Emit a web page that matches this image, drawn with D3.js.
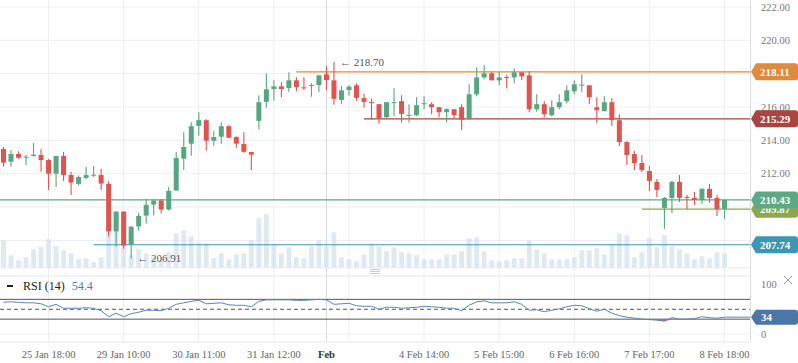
<!DOCTYPE html>
<html>
<head>
<meta charset="utf-8">
<script src="https://cdn.jsdelivr.net/npm/d3@7"></script>
<style>
  body { margin: 0; background: #fff; }
  svg { display: block; font-family: 'Liberation Serif', 'Times New Roman', serif; }
</style>
</head>
<body>
<svg id="chart" width="798" height="363"></svg>
<script>
// trading sessions, hourly bars 10:00 - 18:00
const days = ['25 Jan', '28 Jan', '29 Jan', '30 Jan', '31 Jan', '1 Feb', '4 Feb', '5 Feb', '6 Feb', '7 Feb', '8 Feb']
const hours = [10, 11, 12, 13, 14, 15, 16, 17, 18]
const firstHour = 12

const open = [213.48, 212.72, 213.18, 212.96, 213.06, 213.12, 212.82, 212.00, 213.06, 211.92,
  211.39, 211.75, 211.88, 211.92, 211.39, 208.54, 209.73, 207.74, 208.84, 209.49,
  210.15, 210.39, 209.85, 210.99, 212.90, 213.80, 214.87, 215.21, 213.98, 214.22,
  214.85, 214.20, 213.78, 213.30, 215.17, 216.31, 217.08, 217.24, 217.14, 217.60,
  217.18, 217.26, 217.32, 217.96, 217.60, 216.43, 217.02, 217.30, 216.53, 216.29,
  216.17, 215.39, 216.23, 216.35, 215.53, 215.51, 216.17, 216.17, 215.99, 215.69,
  215.87, 215.99, 215.33, 216.76, 217.78, 218.02, 217.60, 217.80, 217.78, 218.08,
  217.90, 215.87, 216.17, 215.51, 215.99, 216.35, 216.94, 217.34, 217.30, 215.99,
  215.75, 216.29, 215.21, 213.90, 213.18, 212.64, 212.16, 211.51, 209.95, 210.55,
  211.51, 210.61, 210.55, 210.43, 211.09, 210.55, 209.89]
const high = [213.60, 213.42, 213.34, 213.12, 213.84, 213.48, 212.88, 213.06, 213.30, 212.10,
  211.90, 212.40, 212.46, 212.28, 211.57, 209.73, 209.73, 208.88, 209.65, 210.49,
  210.49, 210.49, 211.21, 213.30, 214.49, 215.09, 215.69, 215.27, 214.55, 215.09,
  214.91, 214.25, 214.49, 213.30, 216.71, 218.02, 217.60, 217.48, 218.08, 217.78,
  217.78, 217.42, 217.94, 218.44, 218.70, 217.26, 217.30, 217.42, 216.80, 216.51,
  216.17, 216.29, 217.12, 216.71, 216.17, 216.59, 216.65, 216.29, 215.99, 215.93,
  215.87, 216.17, 217.36, 218.38, 218.50, 218.12, 218.12, 217.90, 218.32, 218.08,
  218.14, 216.76, 216.35, 216.41, 216.76, 217.30, 217.60, 217.96, 217.30, 216.59,
  216.65, 216.53, 215.57, 213.96, 213.36, 213.12, 212.46, 211.69, 210.61, 211.57,
  211.92, 210.73, 210.91, 211.15, 211.39, 210.73, 210.43]
const low = [212.42, 212.42, 212.90, 212.52, 213.04, 212.12, 211.03, 211.21, 211.57, 210.73,
  211.29, 211.69, 211.80, 211.03, 208.24, 207.64, 207.50, 206.91, 208.58, 209.02,
  209.49, 209.61, 209.79, 210.99, 212.22, 213.08, 214.27, 213.38, 213.68, 213.80,
  214.16, 213.56, 213.26, 212.22, 214.67, 215.95, 216.37, 216.59, 216.90, 216.96,
  217.02, 216.61, 216.90, 217.02, 216.13, 216.19, 216.67, 216.37, 215.95, 215.25,
  214.99, 215.35, 215.45, 215.05, 215.05, 215.45, 215.87, 215.57, 215.39, 215.09,
  215.33, 214.61, 215.21, 216.65, 217.66, 217.60, 217.30, 217.12, 217.42, 217.60,
  215.69, 215.71, 215.39, 215.45, 215.87, 216.23, 216.76, 216.90, 216.17, 215.03,
  215.75, 214.85, 213.66, 212.52, 212.22, 212.10, 210.97, 210.61, 208.70, 209.65,
  210.31, 209.89, 210.13, 210.19, 210.25, 209.47, 209.29]
const close = [212.66, 213.18, 212.96, 213.02, 213.14, 212.82, 212.00, 213.06, 211.92, 211.47,
  211.80, 211.92, 211.94, 211.41, 208.54, 209.73, 207.70, 208.82, 209.47, 210.13,
  210.39, 209.85, 210.97, 212.94, 213.60, 214.85, 215.21, 213.98, 214.20, 214.85,
  214.16, 213.80, 213.32, 213.14, 216.29, 217.06, 217.24, 217.08, 217.60, 217.20,
  217.12, 217.32, 217.90, 217.62, 216.49, 217.00, 217.22, 216.55, 216.31, 216.23,
  215.33, 216.29, 216.29, 215.59, 215.53, 216.11, 216.23, 215.99, 215.69, 215.87,
  215.51, 215.23, 216.76, 217.78, 218.02, 217.60, 217.78, 217.74, 218.08, 217.84,
  215.87, 216.17, 215.57, 215.99, 216.29, 217.00, 217.36, 217.34, 216.59, 215.81,
  216.29, 215.21, 213.90, 213.12, 212.64, 212.22, 211.57, 211.03, 210.55, 211.51,
  210.55, 210.55, 210.43, 211.09, 210.55, 209.89, 210.43]
const volume = [27, 12, 7, 10, 18, 20, 28, 21, 17, 14,
  8, 9, 5, 10, 42, 36, 31, 12, 18, 14,
  10, 8, 15, 34, 37, 31, 25, 24, 9, 14,
  8, 13, 14, 27, 49, 53, 23, 14, 20, 10,
  9, 21, 27, 21, 35, 10, 8, 6, 13, 24,
  21, 16, 20, 15, 14, 12, 8, 8, 8, 13,
  13, 16, 29, 30, 16, 7, 6, 7, 9, 9,
  27, 18, 14, 8, 8, 8, 10, 17, 17, 19,
  13, 23, 34, 32, 10, 15, 29, 20, 32, 21,
  18, 14, 8, 11, 9, 15, 14]
const rsi = [64, 65, 64, 63, 63, 61, 55, 60, 52, 52,
  52, 53, 52, 47, 35, 42, 35, 41, 44, 48,
  48, 47, 52, 60, 63, 66, 68, 61, 62, 63,
  59, 58, 58, 55, 66, 69, 69, 69, 69, 68,
  68, 69, 70, 69, 60, 61, 62, 57, 56, 56,
  50, 54, 54, 52, 53, 54, 56, 55, 54, 52,
  52, 47, 58, 65, 67, 63, 63, 63, 65, 60,
  48, 49, 45, 48, 51, 55, 58, 57, 51, 46,
  50, 42, 37, 34, 32, 30, 29, 28, 26, 33,
  30, 30, 31, 35, 33, 32, 34]
const rsiLegendValue = 54.4

const tickCats = ['25 Jan 18:00', '29 Jan 10:00', '30 Jan 11:00', '31 Jan 12:00', '1 Feb 13:00',
  '4 Feb 14:00', '5 Feb 15:00', '6 Feb 16:00', '7 Feb 17:00', '8 Feb 18:00']
const hiddenTicks = ['1 Feb 13:00']
const monthCat = '1 Feb 10:00'
const monthLabel = 'Feb'

// horizontal price lines: value and the bar they start from (null = whole width)
const levelValues = [207.74, 209.87, 210.43, 215.29, 218.11]
const levelFrom = ['28 Jan 15:00', '7 Feb 16:00', null, '1 Feb 15:00', '31 Jan 15:00']
const levelColors = ['#3b97b3', '#8da84c', '#5ca984', '#a84442', '#e08a3d']

const priceTicks = [208, 210, 212, 214, 216, 218, 220, 222]
const rsiLevels = [70, 50, 30]
const rsiTicks = [0, 100]

const categories = []
days.forEach((d, k) => hours.forEach(h => {
  if (k > 0 || h >= firstHour) categories.push(d + ' ' + h + ':00')
}))
const bars = categories.map((c, i) => ({ c, o: open[i], h: high[i], l: low[i], cl: close[i], v: volume[i], r: rsi[i] }))

const svg = d3.select('#chart')
const plotRight = 750
const green = '#58a67f', red = '#e0534f', grid = '#eceef1'
const tagH = 17

const x = d3.scalePoint().domain(categories).range([3.5, 724.5])
const y = d3.scaleLinear().domain([208, 222]).range([240.4, 7])
const vy = d3.scaleLinear().domain([0, 60]).range([267.3, 207.3])
const ry = d3.scaleLinear().domain([0, 100]).range([334, 284.5])

// grid
const gGrid = svg.append('g')
gGrid.selectAll('.hg').data(priceTicks).enter().append('line')
  .attr('x1', 0).attr('x2', plotRight).attr('y1', d => y(d)).attr('y2', d => y(d))
  .attr('stroke', grid)
gGrid.selectAll('.vg').data(tickCats).enter().append('line')
  .attr('x1', d => x(d)).attr('x2', d => x(d)).attr('y1', 0).attr('y2', 342)
  .attr('stroke', grid)
gGrid.append('line').attr('x1', x(monthCat)).attr('x2', x(monthCat)).attr('y1', 0).attr('y2', 342)
  .attr('stroke', '#d6d9dd')
gGrid.selectAll('.pb').data([267.8, 276, 342]).enter().append('line')
  .attr('x1', 0).attr('x2', plotRight).attr('y1', d => d).attr('y2', d => d)
  .attr('stroke', '#e4e7ea')
gGrid.append('line').attr('x1', 0).attr('x2', plotRight).attr('y1', ry(0)).attr('y2', ry(0)).attr('stroke', grid)
gGrid.append('line').attr('x1', plotRight + 0.5).attr('x2', plotRight + 0.5).attr('y1', 0).attr('y2', 342)
  .attr('stroke', '#dadde1')

// volume
svg.append('g').selectAll('rect').data(bars).enter().append('rect')
  .attr('x', d => x(d.c) - 2.4).attr('width', 4.8)
  .attr('y', d => vy(d.v)).attr('height', d => vy(0) - vy(d.v))
  .attr('fill', '#d3e2ef').attr('opacity', 0.75)

// price levels
const gLev = svg.append('g')
levelValues.forEach((v, k) => {
  gLev.append('line')
    .attr('x1', levelFrom[k] ? x(levelFrom[k]) : 0).attr('x2', plotRight)
    .attr('y1', y(v)).attr('y2', y(v))
    .attr('stroke', levelColors[k]).attr('stroke-width', 1.2)
})

// candles
const colorOf = d => d.cl > d.o ? green : d.cl < d.o ? red : '#8a8a8a'
const gC = svg.append('g')
gC.selectAll('.wick').data(bars).enter().append('line')
  .attr('x1', d => x(d.c)).attr('x2', d => x(d.c))
  .attr('y1', d => y(d.h)).attr('y2', d => y(d.l))
  .attr('stroke', colorOf).attr('stroke-width', 1.1)
gC.selectAll('.body').data(bars).enter().append('rect')
  .attr('x', d => x(d.c) - 2.5).attr('width', 5)
  .attr('y', d => y(Math.max(d.o, d.cl)))
  .attr('height', d => Math.max(1, Math.abs(y(d.o) - y(d.cl))))
  .attr('fill', colorOf)

// high / low markers
const hiIdx = d3.maxIndex(high), loIdx = d3.minIndex(low)
const notes = [[hiIdx, high[hiIdx]], [loIdx, low[loIdx]]]
notes.forEach(([i, v]) => {
  svg.append('text').attr('x', x(categories[i]) + 6).attr('y', y(v) + 3.5)
    .attr('font-size', 11).attr('fill', '#555')
    .text('\u2190 ' + v.toFixed(2))
})

// price axis labels (the ones fully under a level tag are covered, as in the source)
const covered = t => levelValues.some(v => Math.abs(y(t) - y(v)) < tagH / 2)
svg.append('g').selectAll('text').data(priceTicks.filter(t => !covered(t))).enter().append('text')
  .attr('x', 761).attr('y', d => y(d) + 3.5)
  .attr('font-size', 10.5).attr('fill', '#777')
  .text(d => d.toFixed(2))

// level tags
const tag = (cy, h) => `M751,${cy} L756,${cy - h / 2} H795 Q798,${cy - h / 2} 798,${cy - h / 2 + 3} V${cy + h / 2 - 3} Q798,${cy + h / 2} 795,${cy + h / 2} H756 Z`
levelValues.forEach((v, k) => {
  const cy = y(v)
  svg.append('path').attr('d', tag(cy, tagH)).attr('fill', levelColors[k])
  svg.append('text').attr('x', 760).attr('y', cy + 4).attr('font-size', 11)
    .attr('font-weight', 'bold').attr('fill', '#fff').text(v.toFixed(2))
})

// RSI panel
const gR = svg.append('g')
rsiLevels.forEach(v => {
  gR.append('line').attr('x1', 0).attr('x2', plotRight).attr('y1', ry(v)).attr('y2', ry(v))
    .attr('stroke', '#555').attr('stroke-dasharray', v === 50 ? '4,3' : null)
})
const rsiPts = bars.map(d => [x(d.c), d.r]).concat([[plotRight, rsi[rsi.length - 1]]])
gR.append('path').datum(rsiPts)
  .attr('d', d3.area().x(d => d[0]).y0(ry(30)).y1(d => ry(Math.min(d[1], 30))))
  .attr('fill', red).attr('opacity', 0.85)
gR.append('path').datum(rsiPts)
  .attr('d', d3.line().x(d => d[0]).y(d => ry(d[1])))
  .attr('fill', 'none').attr('stroke', '#5b85bd').attr('stroke-width', 1)

gR.selectAll('.rt').data(rsiTicks).enter().append('text')
  .attr('x', 761).attr('y', d => ry(d) + 3.5).attr('font-size', 10.5).attr('fill', '#777')
  .text(d => d)
gR.append('path').attr('d', tag(ry(rsi[rsi.length - 1]), 15)).attr('fill', '#4a76a8')
gR.append('text').attr('x', 761).attr('y', ry(rsi[rsi.length - 1]) + 4).attr('font-size', 11)
  .attr('font-weight', 'bold').attr('fill', '#fff').text(rsi[rsi.length - 1])

// legend
gR.append('rect').attr('x', 7).attr('y', 285).attr('width', 6).attr('height', 2).attr('fill', '#222')
const leg = gR.append('text').attr('x', 23).attr('y', 290).attr('font-size', 12)
leg.append('tspan').attr('fill', '#222').text('RSI (14)')
leg.append('tspan').attr('dx', 7).attr('fill', '#4f7ab3').text(rsiLegendValue)

// close icon and pane handle
gR.append('path').attr('d', 'M784,276 L792,284 M792,276 L784,284').attr('stroke', '#999').attr('stroke-width', 1)
svg.append('path').attr('d', 'M370,269.5 H380 M370,271.5 H380 M370,273.5 H380').attr('stroke', '#ccc').attr('stroke-width', 1)

// time axis labels
svg.append('g').selectAll('text').data(tickCats.filter(c => !hiddenTicks.includes(c))).enter().append('text')
  .attr('x', d => x(d)).attr('y', 357.5).attr('text-anchor', 'middle')
  .attr('font-size', 10.5).attr('fill', '#666').text(d => d)
svg.append('text').attr('x', x(monthCat)).attr('y', 357.5).attr('text-anchor', 'middle')
  .attr('font-size', 10.5).attr('font-weight', 'bold').attr('fill', '#333').text(monthLabel)
</script>
</body>
</html>
